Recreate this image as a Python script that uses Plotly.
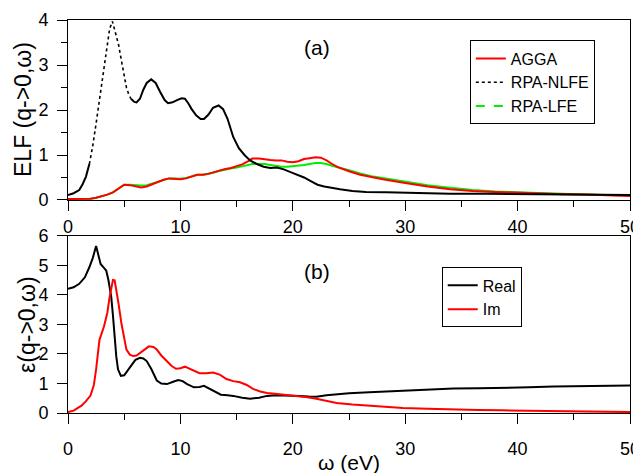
import plotly.graph_objects as go

# ---------------- Panel (a): ELF ----------------
nlfe_x0 = [0, 0.5, 1.0, 1.3, 1.6, 1.9]
nlfe_y0 = [0.11, 0.15, 0.22, 0.35, 0.52, 0.8]

nlfe_x1 = [1.9, 2.2, 2.5, 2.8, 3.1, 3.4, 3.7, 3.95, 4.2, 4.5, 4.75, 5.0, 5.2, 5.4, 5.6]
nlfe_y1 = [0.8, 1.2, 1.7, 2.24, 2.8, 3.35, 3.8, 3.97, 3.75, 3.45, 3.1, 2.8, 2.5, 2.35, 2.25]

nlfe_x2 = [5.6, 5.9, 6.1, 6.4, 6.7, 7.0, 7.4, 7.8, 8.2, 8.6, 8.9, 9.3, 9.7, 10.1, 10.4, 10.7, 11.0, 11.4, 11.8,
           12.1, 12.5, 12.9, 13.4, 13.8, 14.2, 14.7, 15.2, 15.7, 16.2, 16.8, 17.4, 18.0, 18.6, 19.2, 19.8, 20.4,
           21.0, 21.6, 22.2, 22.8, 23.4, 24.2, 25.3, 26.5, 28.3, 30.0, 31.3, 34.0, 37.2, 40.0, 43.1, 46.0, 50.0]
nlfe_y2 = [2.25, 2.18, 2.17, 2.25, 2.45, 2.6, 2.68, 2.6, 2.4, 2.22, 2.15, 2.17, 2.22, 2.26, 2.25, 2.15, 2.02, 1.88, 1.8,
           1.8, 1.9, 2.05, 2.1, 2.02, 1.8, 1.4, 1.15, 1.0, 0.88, 0.8, 0.74, 0.71, 0.72, 0.68, 0.62, 0.56,
           0.5, 0.42, 0.34, 0.3, 0.27, 0.24, 0.2, 0.18, 0.17, 0.16, 0.15, 0.14, 0.14, 0.13, 0.13, 0.12, 0.11]

elf_x = [0, 1, 2, 2.5, 3, 3.5, 4, 4.5, 5, 5.5, 6, 6.5, 7, 7.5, 8, 8.5, 9, 9.5, 10, 10.5, 11, 11.5, 12, 12.5,
         13, 13.5, 14, 14.5, 15, 15.5, 16, 16.4, 17, 17.5, 18, 18.5, 19, 19.5, 20, 20.5, 21, 21.5, 22, 22.5,
         23, 23.5, 24, 25, 26, 27, 28, 30, 32, 34, 36, 38, 40, 42, 44, 46, 48, 50]
agga_y = [0.02, 0.02, 0.03, 0.05, 0.08, 0.12, 0.17, 0.25, 0.34, 0.33, 0.30, 0.28, 0.30, 0.35, 0.40, 0.45, 0.48, 0.47,
          0.46, 0.48, 0.52, 0.56, 0.56, 0.58, 0.62, 0.66, 0.69, 0.71, 0.75, 0.79, 0.86, 0.92, 0.92, 0.90, 0.89, 0.88,
          0.88, 0.85, 0.84, 0.86, 0.91, 0.93, 0.95, 0.94, 0.88, 0.80, 0.73, 0.64, 0.56, 0.51, 0.46, 0.38, 0.30, 0.24,
          0.20, 0.18, 0.16, 0.15, 0.13, 0.12, 0.11, 0.09]
lfe_y = [0.02, 0.02, 0.03, 0.05, 0.08, 0.12, 0.17, 0.25, 0.34, 0.34, 0.33, 0.32, 0.33, 0.37, 0.41, 0.45, 0.48, 0.48,
         0.47, 0.49, 0.52, 0.56, 0.56, 0.58, 0.61, 0.65, 0.68, 0.70, 0.72, 0.75, 0.78, 0.80, 0.80, 0.80, 0.78, 0.76,
         0.74, 0.74, 0.75, 0.76, 0.78, 0.80, 0.82, 0.82, 0.80, 0.76, 0.73, 0.66, 0.59, 0.53, 0.49, 0.41, 0.33, 0.27,
         0.22, 0.19, 0.17, 0.15, 0.13, 0.12, 0.11, 0.10]

# ---------------- Panel (b): dielectric function ----------------
real_x = [0, 0.5, 1.0, 1.5, 1.9, 2.2, 2.5, 2.7, 2.9, 3.2, 3.4, 3.6, 3.85, 4.0, 4.15, 4.3, 4.45, 4.7, 5.0, 5.3, 5.7,
          6.0, 6.4, 6.7, 7.0, 7.4, 7.9, 8.3, 8.8, 9.3, 9.8, 10.2, 10.6, 11.2, 11.7, 12.1, 12.7, 13.2, 13.6, 14.2,
          14.7, 15.5, 16.2, 17.0, 17.7, 18.5, 19.1, 20.0, 20.6, 21.4, 22.1, 23.0, 23.9, 25.0, 26.8, 28.0, 29.8,
          32.0, 34.3, 36.5, 38.7, 41.0, 43.2, 46.0, 48.0, 50.0]
real_y = [4.21, 4.26, 4.38, 4.6, 4.94, 5.25, 5.66, 5.35, 5.05, 4.92, 4.83, 4.5, 3.93, 3.3, 2.48, 1.9, 1.48, 1.26,
          1.28, 1.45, 1.65, 1.8, 1.87, 1.85, 1.76, 1.5, 1.1, 1.0, 0.98, 1.05, 1.12, 1.08, 0.98, 0.87, 0.88, 0.92,
          0.81, 0.7, 0.62, 0.6, 0.58, 0.52, 0.48, 0.52, 0.58, 0.6, 0.6, 0.6, 0.58, 0.56, 0.55, 0.6, 0.64, 0.67,
          0.7, 0.72, 0.76, 0.8, 0.83, 0.84, 0.85, 0.87, 0.9, 0.91, 0.92, 0.93]

im_x = [0, 0.5, 1.2, 1.6, 2.0, 2.3, 2.5, 2.8, 3.2, 3.5, 3.7, 3.85, 4.0, 4.15, 4.3, 4.5, 4.75, 5.0, 5.2, 5.5, 5.8,
        6.1, 6.4, 6.8, 7.2, 7.6, 7.9, 8.3, 8.8, 9.2, 9.6, 10.0, 10.4, 10.8, 11.1, 11.7, 12.3, 12.9, 13.5, 14.1,
        14.7, 15.3, 15.9, 16.5, 17.1, 17.7, 18.4, 19.1, 19.9, 20.6, 21.3, 22.1, 22.9, 23.9, 25.3, 26.8, 28.3,
        29.8, 32.0, 34.3, 36.5, 38.7, 41.0, 43.2, 46.0, 48.0, 50.0]
im_y = [0.03, 0.08, 0.25, 0.4, 0.59, 0.95, 1.48, 2.48, 2.93, 3.4, 3.93, 4.3, 4.51, 4.5, 4.2, 3.7, 3.04, 2.5, 2.15,
        1.98, 1.93, 1.95, 2.03, 2.15, 2.26, 2.24, 2.15, 1.95, 1.76, 1.6, 1.5, 1.52, 1.57, 1.5, 1.43, 1.35, 1.35,
        1.37, 1.3, 1.15, 1.08, 1.04, 0.95, 0.81, 0.73, 0.68, 0.65, 0.62, 0.6, 0.58, 0.53, 0.48, 0.42, 0.34, 0.29,
        0.25, 0.21, 0.17, 0.14, 0.11, 0.1, 0.09, 0.08, 0.07, 0.065, 0.06, 0.03]

FONT = "Liberation Sans, Arial, sans-serif"
LW = 2

fig = go.Figure()

# Panel (a)
fig.add_trace(go.Scatter(x=elf_x, y=lfe_y, mode="lines", line=dict(color="#00ee00", width=LW),
                         showlegend=False, xaxis="x", yaxis="y"))
fig.add_trace(go.Scatter(x=elf_x, y=agga_y, mode="lines", line=dict(color="#ff0000", width=LW),
                         name="AGGA", legend="legend", legendrank=1, xaxis="x", yaxis="y"))
fig.add_trace(go.Scatter(x=nlfe_x0, y=nlfe_y0, mode="lines", line=dict(color="black", width=LW),
                         showlegend=False, xaxis="x", yaxis="y"))
fig.add_trace(go.Scatter(x=nlfe_x1, y=nlfe_y1, mode="lines", line=dict(color="black", width=1.6, dash="dot"),
                         name="RPA-NLFE", legend="legend", legendrank=2, xaxis="x", yaxis="y"))
fig.add_trace(go.Scatter(x=nlfe_x2, y=nlfe_y2, mode="lines", line=dict(color="black", width=LW),
                         showlegend=False, xaxis="x", yaxis="y"))
fig.add_trace(go.Scatter(x=[None], y=[None], mode="lines", line=dict(color="#00ee00", width=LW, dash="dash"),
                         name="RPA-LFE", legend="legend", legendrank=3, xaxis="x", yaxis="y"))

# Panel (b)
fig.add_trace(go.Scatter(x=real_x, y=real_y, mode="lines", line=dict(color="black", width=LW),
                         name="Real", legend="legend2", legendrank=1, xaxis="x2", yaxis="y2"))
fig.add_trace(go.Scatter(x=im_x, y=im_y, mode="lines", line=dict(color="#ff0000", width=LW),
                         name="Im", legend="legend2", legendrank=2, xaxis="x2", yaxis="y2"))

axis_common = dict(showline=True, linecolor="black", linewidth=1, mirror=True, showgrid=False, zeroline=False,
                   automargin=False,
                   ticks="outside", ticklen=10, tickwidth=1, tickcolor="black",
                   tickfont=dict(family=FONT, size=18, color="black"))

xminor = dict(dtick=5, ticks="outside", ticklen=6, tickcolor="black")

fig.update_layout(
    width=641, height=473,
    margin=dict(l=60, r=19, t=12, b=68),
    paper_bgcolor="white", plot_bgcolor="white",
    font=dict(family=FONT, color="black"),
    xaxis=dict(domain=[0, 1], range=[0, 50], dtick=10, anchor="y", ticklabelstandoff=0,
               minor=xminor, **axis_common),
    yaxis=dict(domain=[0.542, 1], range=[0, 4], dtick=1, anchor="x", ticklabelstandoff=5,
               minor=dict(dtick=0.5, ticks="outside", ticklen=6, tickcolor="black"), **axis_common),
    xaxis2=dict(domain=[0, 1], range=[0, 50], dtick=10, anchor="y2", ticklabelstandoff=9,
                minor=xminor, **axis_common),
    yaxis2=dict(domain=[0, 0.4504], range=[0, 6], dtick=1, anchor="x2", ticklabelstandoff=5,
                **axis_common),
    legend=dict(x=0.715, y=0.841, xanchor="left", yanchor="middle", bgcolor="white",
                bordercolor="black", borderwidth=1, font=dict(family=FONT, size=16, color="black"),
                traceorder="normal"),
    legend2=dict(x=0.665, y=0.294, xanchor="left", yanchor="middle", bgcolor="white",
                 bordercolor="black", borderwidth=1, font=dict(family=FONT, size=16, color="black"),
                 traceorder="normal"),
    annotations=[
        dict(text="(a)", xref="paper", yref="paper", x=0.443, y=1, yshift=-27, showarrow=False,
             xanchor="center", yanchor="middle", font=dict(family=FONT, size=21, color="black")),
        dict(text="(b)", xref="paper", yref="paper", x=0.443, y=0.4504, yshift=-36, showarrow=False,
             xanchor="center", yanchor="middle", font=dict(family=FONT, size=21, color="black")),
        dict(text="ELF (q->0,ω)", xref="paper", yref="paper", x=0, xshift=-45, y=0.771, showarrow=False,
             textangle=-90, xanchor="center", yanchor="middle", font=dict(family=FONT, size=23, color="black")),
        dict(text="ε(q->0,ω)", xref="paper", yref="paper", x=0, xshift=-41, y=0.224, showarrow=False,
             textangle=-90, xanchor="center", yanchor="middle", font=dict(family=FONT, size=23, color="black")),
        dict(text="ω (eV)", xref="paper", yref="paper", x=0.5, y=0, yshift=-49, showarrow=False,
             xanchor="center", yanchor="middle", font=dict(family=FONT, size=21, color="black")),
    ],
)

fig.write_html("out.html")
